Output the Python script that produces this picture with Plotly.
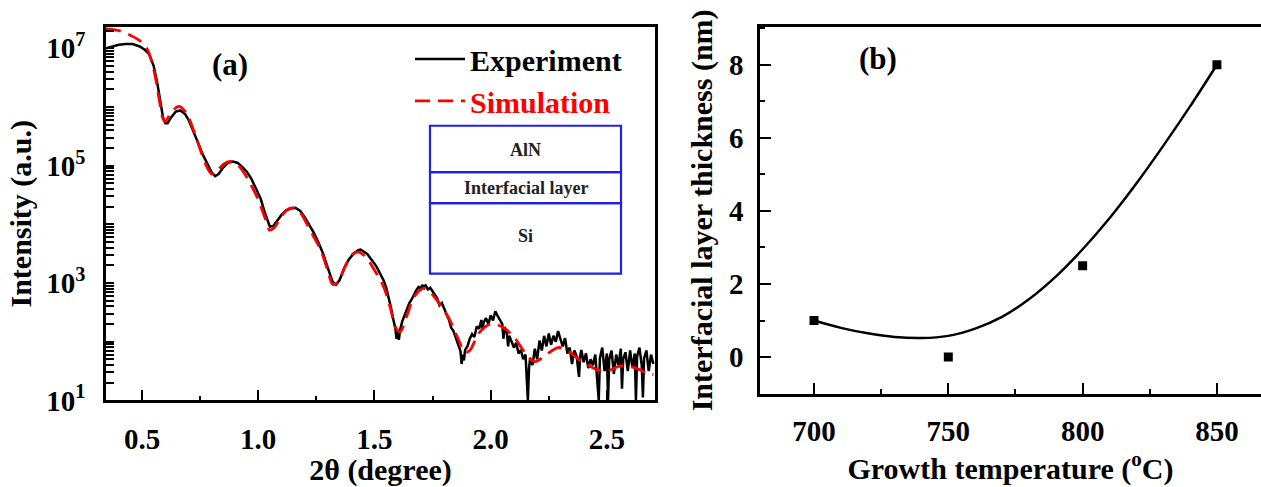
import plotly.graph_objects as go

# ---------------- Panel (a) data: XRR curves (log10 of intensity) ----------------
exp_angle = [0.345, 0.37, 0.40, 0.43, 0.46, 0.49, 0.51, 0.53, 0.55, 0.565, 0.58, 0.59, 0.60, 0.61,
             0.625, 0.645, 0.665, 0.685, 0.70, 0.72, 0.74, 0.76, 0.78, 0.80, 0.815, 0.83, 0.85, 0.87,
             0.89, 0.91, 0.93, 0.95, 0.97, 0.99, 1.01, 1.03, 1.05, 1.065, 1.08, 1.10, 1.12, 1.14, 1.16,
             1.18, 1.20, 1.22, 1.24, 1.26, 1.28, 1.30, 1.32, 1.335, 1.35, 1.37, 1.39, 1.41, 1.43, 1.44,
             1.45, 1.46, 1.47, 1.48, 1.49, 1.50, 1.51, 1.52, 1.53, 1.54, 1.55, 1.56, 1.57, 1.58, 1.59,
             1.595, 1.60, 1.605, 1.61, 1.62, 1.63, 1.64, 1.65, 1.66, 1.67, 1.68, 1.69, 1.70, 1.705, 1.71,
             1.72, 1.73, 1.74, 1.75, 1.76, 1.77, 1.78, 1.79, 1.80, 1.81, 1.82, 1.83, 1.84, 1.85, 1.86,
             1.87, 1.875, 1.88, 1.885, 1.89, 1.90, 1.91, 1.92, 1.93, 1.94, 1.95, 1.96, 1.965, 1.97, 1.98,
             1.99, 2.00, 2.01, 2.02, 2.03, 2.04, 2.05, 2.055, 2.06, 2.07, 2.075, 2.08, 2.09, 2.10, 2.11,
             2.12, 2.13, 2.14, 2.15, 2.155, 2.16, 2.165, 2.17, 2.18, 2.19, 2.20, 2.21, 2.22, 2.23, 2.24,
             2.25, 2.26, 2.27, 2.28, 2.29, 2.30, 2.31, 2.32, 2.33, 2.34, 2.35, 2.36, 2.37, 2.38, 2.385,
             2.39, 2.40, 2.41, 2.42, 2.43, 2.44, 2.45, 2.46, 2.465, 2.47, 2.48, 2.49, 2.50, 2.505, 2.51,
             2.52, 2.53, 2.54, 2.55, 2.56, 2.565, 2.57, 2.58, 2.59, 2.60, 2.61, 2.62, 2.625, 2.63, 2.64,
             2.65, 2.655, 2.66, 2.67, 2.68, 2.69, 2.70]
exp_log10 = [7.00, 7.03, 7.06, 7.07, 7.07, 7.03, 6.98, 6.90, 6.70, 6.42, 6.05, 5.83, 5.72, 5.72,
             5.82, 5.92, 5.94, 5.88, 5.78, 5.60, 5.40, 5.20, 5.04, 4.88, 4.82, 4.86, 4.97, 5.05,
             5.07, 5.05, 4.98, 4.90, 4.78, 4.62, 4.44, 4.18, 3.96, 3.97, 4.05, 4.16, 4.24, 4.27, 4.28,
             4.23, 4.12, 3.99, 3.85, 3.68, 3.49, 3.25, 3.02, 2.97, 3.05, 3.25, 3.40, 3.50, 3.56, 3.57,
             3.55, 3.52, 3.49, 3.44, 3.40, 3.33, 3.27, 3.20, 3.12, 3.04, 2.93, 2.78, 2.60, 2.40, 2.22,
             2.05, 2.18, 2.03, 2.20, 2.35, 2.46, 2.56, 2.66, 2.72, 2.80, 2.88, 2.93, 2.90, 2.97, 2.93,
             2.96, 2.89, 2.92, 2.85, 2.80, 2.74, 2.62, 2.66, 2.55, 2.47, 2.38, 2.24, 2.18, 2.06, 1.95,
             1.84, 1.62, 1.78, 1.68, 1.86, 1.92, 2.05, 2.13, 2.08, 2.26, 2.22, 2.37, 2.20, 2.33, 2.40,
             2.30, 2.45, 2.36, 2.52, 2.44, 2.38, 2.30, 2.05, 2.25, 2.14, 1.92, 2.10, 2.00, 1.90, 1.98,
             1.80, 1.86, 1.70, 1.78, 1.40, 1.00, 1.55, 1.72, 1.60, 1.88, 1.70, 2.02, 1.85, 2.10, 1.92,
             2.14, 1.95, 2.10, 2.00, 2.18, 2.05, 1.92, 2.06, 1.80, 1.90, 1.62, 1.85, 1.75, 1.40, 1.75,
             1.86, 1.65, 1.80, 1.55, 1.70, 1.60, 1.78, 1.35, 1.00, 1.72, 1.90, 1.50, 1.80, 1.00, 1.70,
             1.85, 1.45, 1.78, 1.60, 1.88, 1.20, 1.70, 1.82, 1.50, 1.85, 1.55, 1.80, 1.00, 1.75, 1.90,
             1.60, 1.05, 1.72, 1.85, 1.50, 1.78, 1.62]

sim_angle = [0.345, 0.40, 0.45, 0.49, 0.52, 0.54, 0.56, 0.575, 0.59, 0.60, 0.61, 0.63, 0.66, 0.69,
             0.72, 0.75, 0.78, 0.80, 0.82, 0.85, 0.88, 0.91, 0.94, 0.97, 1.00, 1.03, 1.05, 1.07, 1.10,
             1.13, 1.15, 1.18, 1.21, 1.24, 1.27, 1.30, 1.32, 1.34, 1.37, 1.40, 1.43, 1.46, 1.50, 1.54,
             1.57, 1.59, 1.61, 1.64, 1.67, 1.71, 1.75, 1.79, 1.82, 1.86, 1.89, 1.91, 1.95, 2.00, 2.05,
             2.10, 2.15, 2.19, 2.23, 2.29, 2.33, 2.38, 2.42, 2.46, 2.50, 2.56, 2.62, 2.675, 2.70]
sim_log10 = [7.33, 7.30, 7.22, 7.13, 7.00, 6.80, 6.45, 6.10, 5.80, 5.75, 5.80, 5.93, 6.01, 5.90,
             5.62, 5.28, 4.97, 4.86, 4.90, 5.02, 5.07, 5.02, 4.87, 4.66, 4.42, 4.10, 3.90, 3.95, 4.14,
             4.26, 4.28, 4.20, 4.00, 3.78, 3.55, 3.20, 2.98, 3.00, 3.25, 3.47, 3.53, 3.45, 3.22, 2.93,
             2.55, 2.25, 2.17, 2.45, 2.76, 2.91, 2.80, 2.58, 2.40, 2.05, 1.82, 1.85, 2.15, 2.30, 2.25,
             2.08, 1.80, 1.66, 1.75, 1.90, 1.85, 1.70, 1.60, 1.52, 1.50, 1.59, 1.56, 1.46, 1.44]

# y ticks of panel (a): every decade and its 2..9 subdivisions; labels on odd decades only
a_tick_vals = [m * 10 ** d for d in range(1, 8) for m in range(1, 10) if m * 10 ** d <= 2e7]
a_label_map = {10: "10<sup>1</sup>", 1000: "10<sup>3</sup>", 100000: "10<sup>5</sup>",
               10000000: "10<sup>7</sup>"}
a_tick_text = [a_label_map.get(int(v), "") for v in a_tick_vals]
a_x_ticks = [0.5, 1.0, 1.5, 2.0, 2.5]
a_x_text = ["0.5", "1.0", "1.5", "2.0", "2.5"]

# ---------------- Panel (b) data ----------------
temp_points = [700, 750, 800, 850]
thick_points = [1.0, 0.0, 2.5, 8.0]
fit_temp = [700, 710, 720, 730, 740, 750, 760, 770, 780, 790, 800, 810, 820, 830, 840, 850]
fit_thick = [1.0, 0.80, 0.65, 0.55, 0.52, 0.58, 0.78, 1.10, 1.58, 2.20, 2.95, 3.80, 4.75, 5.78, 6.86, 8.0]
b_x_ticks = [700, 750, 800, 850]
b_y_ticks = [0, 2, 4, 6, 8]

FONT = "Liberation Serif"
W, H = 1261, 487
TICK_SIZE = 29
TITLE_SIZE = 30

exp_intensity = [10 ** v for v in exp_log10]
sim_intensity = [10 ** v for v in sim_log10]

fig = go.Figure()

fig.add_trace(go.Scatter(
    x=exp_angle, y=exp_intensity, mode="lines",
    name="<b>Experiment</b>", line=dict(color="black", width=2.5),
    xaxis="x", yaxis="y"))
fig.add_trace(go.Scatter(
    x=sim_angle, y=sim_intensity, mode="lines",
    name="<b><span style='color:#ff0000'>Simulation</span></b>",
    line=dict(color="#ff0000", width=2.8, dash="15px,8px", shape="spline"),
    xaxis="x", yaxis="y"))

fig.add_trace(go.Scatter(
    x=fit_temp, y=fit_thick, mode="lines", showlegend=False,
    line=dict(color="black", width=2.5, shape="spline", smoothing=1.0),
    xaxis="x2", yaxis="y2"))
fig.add_trace(go.Scatter(
    x=temp_points, y=thick_points, mode="markers", showlegend=False,
    marker=dict(symbol="square", size=9, color="black"),
    xaxis="x2", yaxis="y2"))


def axis_style(mirror=True, standoff=8, ticklen=11):
    return dict(showgrid=False, zeroline=False, showline=True, linecolor="black",
                linewidth=2.5, mirror=mirror, ticks="inside", tickcolor="black",
                tickwidth=2, ticklen=ticklen, ticklabelstandoff=standoff,
                tickfont=dict(family=FONT, size=TICK_SIZE, color="black", weight="bold"),
                title_font=dict(family=FONT, size=TITLE_SIZE, color="black", weight="bold"))


fig.update_layout(
    width=W, height=H, margin=dict(l=0, r=0, t=0, b=0),
    paper_bgcolor="white", plot_bgcolor="white",
    font=dict(family=FONT, color="black"),
    xaxis=dict(domain=[106 / W, 655 / W], range=[0.345, 2.707],
               tickvals=a_x_ticks, ticktext=a_x_text,
               minor=dict(ticks="inside", ticklen=5, tickwidth=2, tickcolor="black", dtick=0.25),
               title=dict(text="2θ (degree)", standoff=0), anchor="y", **axis_style(True, 11)),
    yaxis=dict(domain=[(H - 414) / H, (H - 28) / H], type="log", range=[1, 7.36],
               tickmode="array", tickvals=a_tick_vals, ticktext=a_tick_text,
               title=dict(text="Intensity (a.u.)", standoff=6), anchor="x",
               **axis_style(True, 12, 8)),
    xaxis2=dict(domain=[760 / W, 1.0], range=[679.9, 866.4],
                tickvals=b_x_ticks,
                minor=dict(ticks="inside", ticklen=5, tickwidth=2, tickcolor="black", dtick=25),
                title=dict(text="Growth temperature (<sup>o</sup>C)", standoff=2),
                anchor="y2", **axis_style(True, 10)),
    yaxis2=dict(domain=[(H - 407) / H, (H - 28) / H], range=[-1.0, 9.03],
                tickvals=b_y_ticks,
                minor=dict(ticks="inside", ticklen=5, tickwidth=2, tickcolor="black", dtick=1),
                title=dict(text="Interfacial layer thickness (nm)", standoff=8),
                anchor="x2", **axis_style(False, 8)),
    legend=dict(x=410 / W, y=1 - 34 / H, xanchor="left", yanchor="top",
                bgcolor="rgba(0,0,0,0)", borderwidth=0,
                font=dict(family=FONT, size=30, color="black"),
                itemwidth=50, tracegroupgap=0),
    showlegend=True,
)

# Panel labels
fig.add_annotation(x=230 / W, y=1 - 67 / H, xref="paper", yref="paper", text="<b>(a)</b>",
                   xanchor="center", yanchor="middle",
                   showarrow=False, font=dict(family=FONT, size=31, color="black"))
fig.add_annotation(x=878 / W, y=1 - 61 / H, xref="paper", yref="paper", text="<b>(b)</b>",
                   xanchor="center", yanchor="middle",
                   showarrow=False, font=dict(family=FONT, size=31, color="black"))

# Inset: layer stack schematic
blue = "#1f1fe6"
x0, x1 = 430 / W, 621 / W
for (ya, yb) in [(130, 178), (178, 210), (210, 283)]:
    fig.add_shape(type="rect", xref="paper", yref="paper", x0=x0, x1=x1,
                  y0=1 - yb / H, y1=1 - ya / H, line=dict(color=blue, width=2.2))
for txt, yc in [("AlN", 155), ("Interfacial layer", 194), ("Si", 244)]:
    fig.add_annotation(x=(x0 + x1) / 2, y=1 - yc / H, xref="paper", yref="paper",
                       text="<b>" + txt + "</b>", showarrow=False,
                       xanchor="center", yanchor="middle",
                       font=dict(family=FONT, size=18, color="#222222"))

fig.write_html("out.html")
